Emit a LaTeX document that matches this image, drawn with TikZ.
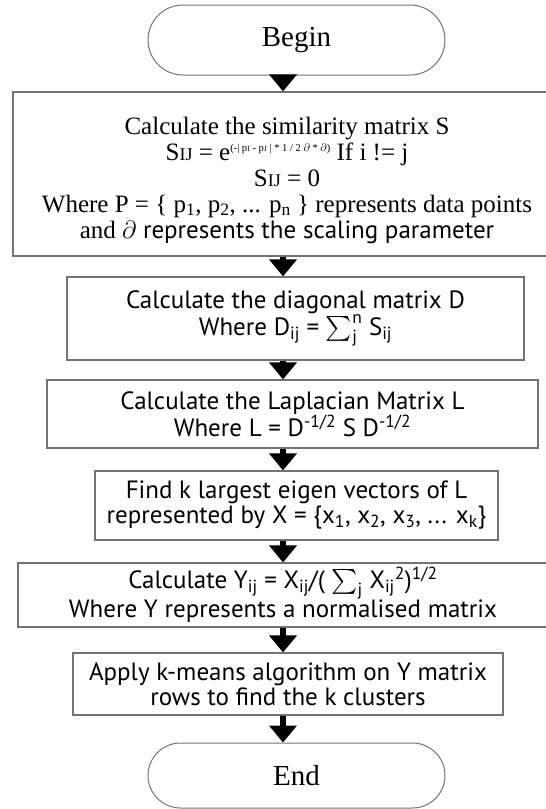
\documentclass[tikz,border=0pt]{standalone}
\usepackage{amsmath}
\usepackage{fontspec}
\setmainfont{Liberation Serif}
\setsansfont{PT Sans}
\usetikzlibrary{arrows.meta,shapes.misc,positioning}

\newcommand{\capsml}[1]{{\fontsize{18}{18}\selectfont #1}}
\newcommand{\expsml}[1]{\raisebox{9pt}{\fontsize{10.5}{10.5}\selectfont #1}}

\begin{document}
\begin{tikzpicture}[x=1pt, y=-1pt,
    stadium/.style={draw=black!55, line width=1pt, rounded rectangle, minimum width=297pt, inner sep=0pt, font=\fontsize{29}{30}\selectfont},
    procbox/.style={draw=black!55, line width=1.2pt, align=center, inner sep=0pt, font=\sffamily\fontsize{25}{25}\selectfont},
    arr/.style={-{Triangle[length=17pt, width=27pt]}, line width=5.5pt}
]
\useasboundingbox (0,0) rectangle (546,809);
\clip (0,0) rectangle (546,809);

\node[stadium, minimum height=70pt] (begin) at (296.5,40) {Begin};
\node[procbox, minimum width=548pt, minimum height=164pt] (sim) at (287,174) {};
\node[align=center, inner sep=0pt, font=\fontsize{25}{26}\selectfont, yshift=-6pt] (simtxt) at (sim.center)
  {Calculate the similarity matrix S\\
   S\capsml{IJ} = e\expsml{(-| p{\fontsize{8}{8}\selectfont I} - p{\fontsize{8}{8}\selectfont J} | * 1 / 2 $\partial$ * $\partial$)} If i != j\\
   S\capsml{IJ} = 0\\
   Where P = \{ p\textsubscript{1}, p\textsubscript{2}, ... p\textsubscript{n} \} represents data points\\
   and {\sffamily $\partial$ represents the scaling parameter}};
\node[procbox, font=\sffamily\fontsize{25}{27}\selectfont, minimum width=457pt, minimum height=83pt] (diag) at (295.5,318.5)
  {Calculate the diagonal matrix D\\Where D\textsubscript{ij} = $\sum^{\text{n}}_{\text{j}}$ S\textsubscript{ij}};
\node[procbox, minimum width=491pt, minimum height=68pt] (lapl) at (292.5,414)
  {Calculate the Laplacian Matrix L\\Where L = D\textsuperscript{-1/2} S D\textsuperscript{-1/2}};
\node[procbox, minimum width=403pt, minimum height=69pt] (eig) at (296.5,505.5)
  {Find k largest eigen vectors of L\\represented by X = \{x\textsubscript{1}, x\textsubscript{2}, x\textsubscript{3}, ... x\textsubscript{k}\}};
\node[procbox, font=\sffamily\fontsize{25}{24}\selectfont, minimum width=530pt, minimum height=64pt] (norm) at (283,595)
  {Calculate Y\textsubscript{ij} = X\textsubscript{ij}/( $\sum_{\text{j}}$ X\textsubscript{ij}\textsuperscript{2})\textsuperscript{1/2}\\Where Y represents a normalised matrix};
\node[procbox, minimum width=430pt, minimum height=62pt] (kmeans) at (288,684)
  {Apply k-means algorithm on Y matrix\\rows to find the k clusters};
\node[stadium, minimum height=65pt] (end) at (296.5,775.5) {End};

% arrows all run down one column
\coordinate (ax) at (283,0);
\draw[arr] (begin.south -| ax) -- (sim.north -| ax);
\draw[arr] (sim.south -| ax) -- (diag.north -| ax);
\draw[arr] (diag.south -| ax) -- (lapl.north -| ax);
\draw[arr] (lapl.south -| ax) -- (eig.north -| ax);
\draw[arr] (eig.south -| ax) -- (norm.north -| ax);
\draw[arr] (norm.south -| ax) -- (kmeans.north -| ax);
\draw[arr] (kmeans.south -| ax) -- (end.north -| ax);
\end{tikzpicture}
\end{document}
